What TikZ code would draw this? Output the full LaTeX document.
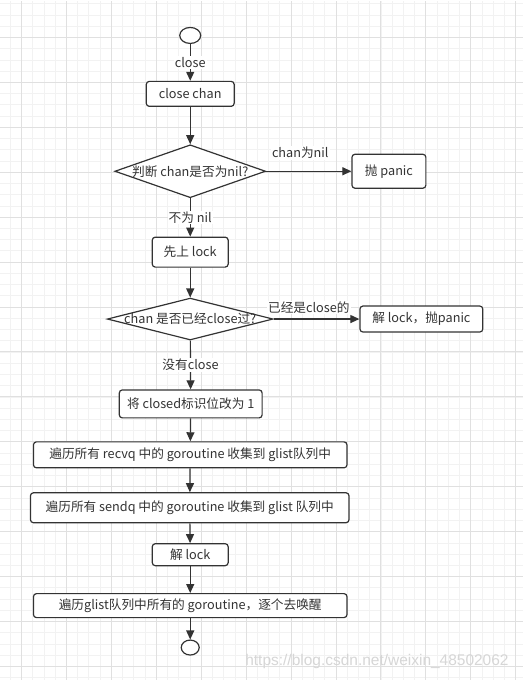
\documentclass[tikz,border=0pt]{standalone}
\usepackage{fontspec}
\setmainfont{Noto Sans CJK SC}
\newfontfamily\markfont{Liberation Sans}
\usepackage{tikz}
\usepackage{xcolor}
\usetikzlibrary{shapes.geometric,arrows.meta}
\definecolor{linegray}{HTML}{333333}
\definecolor{minorgrid}{HTML}{F2F2F2}
\definecolor{majorgrid}{HTML}{E0E0E0}
\definecolor{markgray}{HTML}{D6D6D6}
\tikzset{
    minor-grid/.style = {draw=minorgrid, line width=0.8pt},
    major-grid/.style = {draw=majorgrid, line width=1pt},
    flow-box/.style = {draw=linegray, fill=white, line width=1.2pt, rectangle, rounded corners=3pt, inner sep=0pt},
    flow-decision/.style = {draw=linegray, fill=white, line width=1.2pt, diamond, inner sep=0pt},
    flow-terminal/.style = {draw=linegray, fill=white, line width=1.2pt, ellipse, inner sep=0pt},
    flow-arrow/.style = {draw=linegray, line width=1.2pt, -{Triangle[length=9pt,width=8pt]}},
    edge-label/.style = {fill=white, inner sep=1pt},
}

\begin{document}
\begin{tikzpicture}[x=1pt, y=-1pt, text=linegray, font=\fontsize{12.7pt}{15pt}\selectfont]
\fill[white] (0,0) rectangle (523,680);
\begin{scope}[shift={(21,37)}]
\draw[minor-grid, step=11.25pt] (-21,-37) grid (502,643);
\draw[major-grid, step=45pt] (-21,-37) grid (502,643);
\end{scope}

\node[flow-terminal, minimum width=21pt, minimum height=16pt] (start) at (190,35) {};
\node[flow-box, minimum width=88pt, minimum height=25pt] (close-chan) at (190,93.5) {close chan};
\node[flow-decision, minimum width=151pt, minimum height=53pt, label=center:{判断 chan是否为nil?}] (check-nil) at (190,171) {};
\node[flow-box, minimum width=74pt, minimum height=34pt] (panic) at (389,171) {抛 panic};
\node[flow-box, minimum width=76pt, minimum height=30pt] (lock) at (190,252) {先上 lock};
\node[flow-decision, minimum width=166pt, minimum height=42pt, label=center:{chan 是否已经close过?}] (check-closed) at (190,319) {};
\node[flow-box, minimum width=123pt, minimum height=26pt] (unlock-panic) at (421.5,319) {解 lock，抛panic};
\node[flow-box, minimum width=143pt, minimum height=28pt] (set-flag) at (190.5,404) {将 closed标识位改为 1};
\node[flow-box, minimum width=314pt, minimum height=26pt] (collect-recvq) at (190,455) {遍历所有 recvq 中的 goroutine 收集到 glist队列中};
\node[flow-box, minimum width=319pt, minimum height=30pt] (collect-sendq) at (189.5,508) {遍历所有 sendq 中的 goroutine 收集到 glist 队列中};
\node[flow-box, minimum width=76pt, minimum height=22pt] (unlock) at (190,555) {解 lock};
\node[flow-box, minimum width=314pt, minimum height=24pt] (wake) at (190,606) {遍历glist队列中所有的 goroutine，逐个去唤醒};
\node[flow-terminal, minimum width=18pt, minimum height=15pt] (stop) at (190,648) {};

\draw[flow-arrow] (start) -- node[edge-label] {close} (close-chan);
\draw[flow-arrow] (close-chan) -- (check-nil);
\draw[flow-arrow] (check-nil) -- node[edge-label, pos=0.4, above=11pt] {chan为nil} (panic);
\draw[flow-arrow] (check-nil) -- node[edge-label] {不为 nil} (lock);
\draw[flow-arrow] (lock) -- (check-closed);
\draw[flow-arrow] (check-closed) -- node[edge-label, pos=0.41, above=4pt] {已经是close的} (unlock-panic);
\draw[flow-arrow] (check-closed) -- node[edge-label] {没有close} (set-flag);
\draw[flow-arrow] (set-flag) -- (collect-recvq);
\draw[flow-arrow] (collect-recvq) -- (collect-sendq);
\draw[flow-arrow] (collect-sendq) -- (unlock);
\draw[flow-arrow] (unlock) -- (wake);
\draw[flow-arrow] (wake) -- (stop);

\node[text=markgray, font=\markfont\fontsize{15.5pt}{18pt}\selectfont] (watermark) at (377,662) {https://blog.csdn.net/weixin\_48502062};
\end{tikzpicture}
\end{document}
